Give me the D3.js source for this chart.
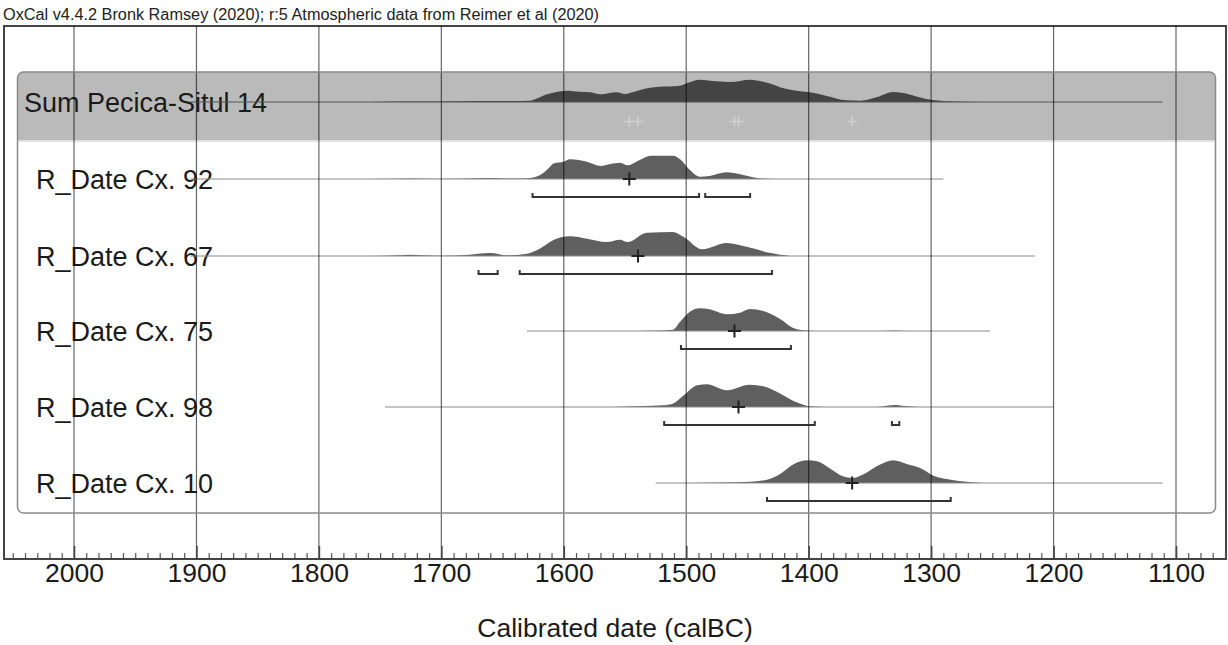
<!DOCTYPE html>
<html>
<head>
<meta charset="utf-8">
<script src="https://cdn.jsdelivr.net/npm/d3@7"></script>
<style>
  body { margin: 0; background: #fff; }
  svg { display: block; font-family: "Liberation Sans", Arial, sans-serif; }
</style>
</head>
<body>
<div id="chart"></div>
<script>
// header text
const TITLE = "OxCal v4.4.2 Bronk Ramsey (2020); r:5 Atmospheric data from Reimer et al (2020)";
const AXIS_TITLE = "Calibrated date (calBC)";

// major tick years (calBC)
const MAJOR_TICKS = [2000, 1900, 1800, 1700, 1600, 1500, 1400, 1300, 1200, 1100];

// row names, top to bottom
const NAMES = ["Sum Pecica-Situl 14", "R_Date Cx. 92", "R_Date Cx. 67", "R_Date Cx. 75", "R_Date Cx. 98", "R_Date Cx. 10"];

// thin line extent of each distribution [from, to] calBC
const SPANS = [[1905, 1111], [1905, 1290], [1905, 1215], [1630, 1252], [1746, 1200], [1525, 1111]];

// probability density: [year, relative height]
const SUM_DENS = [[1760, 0], [1735, 0.5], [1700, 0.6], [1670, 0.9], [1640, 1], [1628, 1.3], [1622, 3.5], [1617, 6.3], [1607, 9.7],
  [1598, 11.3], [1587, 10.3], [1578, 9.7], [1570, 7.7], [1557, 9.7], [1550, 8], [1543, 10], [1532, 13.7], [1524, 15],
  [1505, 16.3], [1499, 19], [1489, 22.3], [1475, 20.7], [1464, 20], [1448, 22.3], [1437, 20.3], [1418, 13], [1407, 10.7],
  [1399, 9.7], [1386, 6.3], [1369, 1.7], [1358, 1.3], [1344, 5], [1331, 10], [1320, 8.3], [1304, 3], [1290, 1], [1271, 0.3], [1244, 0]];
const CX92_DENS = [[1780, 0], [1740, 0.3], [1720, 0.6], [1700, 0.3], [1680, 0.6], [1660, 1], [1640, 0.5], [1630, 0.8], [1625, 1.5],
  [1618, 5], [1613, 10], [1608, 15.7], [1600, 17.3], [1595, 19.7], [1581, 17.3], [1570, 13], [1562, 15], [1554, 16.3],
  [1548, 13.7], [1538, 19], [1529, 23.3], [1511, 23.3], [1505, 19.7], [1497, 9], [1489, 2.3], [1481, 3], [1467, 6.7],
  [1456, 4.7], [1442, 1], [1430, 0]];
const CX67_DENS = [[1760, 0], [1735, 0.8], [1725, 1.3], [1715, 0.8], [1700, 0.3], [1680, 1], [1660, 3], [1646, 0.7], [1630, 2.3],
  [1620, 7], [1608, 16.3], [1595, 19.7], [1581, 17.3], [1565, 14], [1554, 16.3], [1548, 14], [1532, 23.3], [1511, 24],
  [1502, 19], [1487, 6.7], [1467, 13], [1450, 9], [1431, 3], [1415, 0]];
const CX75_DENS = [[1540, 0], [1520, 0.5], [1511, 1.2], [1505, 9.3], [1497, 19.3], [1489, 22.7], [1481, 21.7], [1467, 16.7],
  [1456, 18.3], [1448, 22], [1437, 20], [1423, 11.7], [1413, 3.3], [1404, 0.7], [1395, 0], [1340, 0], [1330, 0.6], [1320, 0]];
const CX98_DENS = [[1560, 0], [1535, 1], [1519, 1.7], [1511, 3.3], [1502, 11.7], [1491, 21.7], [1483, 22.7], [1467, 16.7],
  [1448, 22.3], [1437, 20.7], [1423, 13.3], [1410, 4.7], [1399, 0.7], [1385, 0], [1345, 0], [1335, 1.5], [1329, 2], [1322, 1], [1310, 0]];
const CX10_DENS = [[1497, 0], [1470, 0.5], [1448, 1.3], [1434, 3.3], [1423, 9.3], [1413, 18.3], [1401, 22.7], [1393, 21.7],
  [1382, 14], [1372, 6.7], [1364, 5], [1356, 8.3], [1342, 18.3], [1331, 22.7], [1320, 19], [1309, 15], [1298, 7.3],
  [1284, 3.3], [1271, 1.3], [1257, 0]];
const DENSITIES = [SUM_DENS, CX92_DENS, CX67_DENS, CX75_DENS, CX98_DENS, CX10_DENS];

// 95.4% ranges
const RANGES = [[], [[1625.5, 1489.5], [1484.5, 1447.8]], [[1669.6, 1654], [1636, 1430]], [[1504.3, 1414.5]],
  [[1518, 1395], [1332, 1326]], [[1434, 1284]]];

// means (crosses)
const MEANS = [null, 1546.5, 1539.4, 1460.6, 1457.3, 1364.5];

const W = 1228, H = 645;
const frame = {left: 4, right: 1226, top: 26, bottom: 559};
const box = {left: 17.5, right: 1215.5, top: 72, bottom: 513, band: 140};
const rowY = [102, 179, 256, 331, 407, 483];

const x = d3.scaleLinear().domain([2000, 1100]).range([74, 1176]);
const h = d3.scaleLinear().domain([0, 24]).range([0, 24]);

const svg = d3.select("#chart").append("svg")
    .attr("width", W)
    .attr("height", H);

svg.append("text")
    .attr("x", 3)
    .attr("y", 20)
    .attr("font-size", 16)
    .attr("textLength", 596)
    .attr("lengthAdjust", "spacingAndGlyphs")
    .attr("fill", "#222")
    .text(TITLE);

// outer frame
svg.append("path")
    .attr("d", `M${frame.left},${frame.bottom}V${frame.top}H${frame.right}V${frame.bottom}`)
    .attr("fill", "none")
    .attr("stroke", "#444")
    .attr("stroke-width", 2);

// rounded box + sum band
svg.append("clipPath").attr("id", "boxclip")
  .append("rect")
    .attr("x", box.left).attr("y", box.top)
    .attr("width", box.right - box.left).attr("height", box.bottom - box.top)
    .attr("rx", 6);

svg.append("rect")
    .attr("x", box.left).attr("y", box.top)
    .attr("width", box.right - box.left).attr("height", box.bottom - box.top)
    .attr("rx", 6)
    .attr("fill", "#fff");

svg.append("rect")
    .attr("clip-path", "url(#boxclip)")
    .attr("x", box.left).attr("y", box.top)
    .attr("width", box.right - box.left).attr("height", box.band - box.top)
    .attr("fill", "#bababa");

svg.append("line")
    .attr("x1", box.left).attr("x2", box.right)
    .attr("y1", box.band + 1).attr("y2", box.band + 1)
    .attr("stroke", "#e2e2e2")
    .attr("stroke-width", 2);

// labels
svg.selectAll("text.name")
  .data(NAMES)
  .join("text")
    .attr("class", "name")
    .attr("x", (d, i) => i === 0 ? 24 : 36)
    .attr("y", (d, i) => rowY[i] + 9.5)
    .attr("font-size", 27)
    .attr("fill", "#1a1a1a")
    .text(d => d);

// distributions
const area = (i) => d3.area()
    .x(d => x(d[0]))
    .y0(rowY[i])
    .y1(d => rowY[i] - h(d[1]))
    .curve(d3.curveMonotoneX);

DENSITIES.forEach((dens, i) => {
  svg.append("path")
      .attr("d", area(i)(dens))
      .attr("fill", i === 0 ? "#444" : "#5f5f5f");

  svg.append("line")
      .attr("x1", x(SPANS[i][0])).attr("x2", x(SPANS[i][1]))
      .attr("y1", rowY[i]).attr("y2", rowY[i])
      .attr("stroke", i === 0 ? "#555" : "#8c8c8c")
      .attr("stroke-width", 1.2);
});

// pale crosses in the sum row
svg.selectAll("path.pale")
  .data(MEANS.filter(d => d !== null))
  .join("path")
    .attr("class", "pale")
    .attr("d", d => `M${x(d) - 5},${rowY[0] + 19.5}h10M${x(d)},${rowY[0] + 14.5}v10`)
    .attr("stroke", "#d0d0d0")
    .attr("stroke-width", 1.5);

// grid lines
svg.selectAll("line.grid")
  .data(MAJOR_TICKS)
  .join("line")
    .attr("class", "grid")
    .attr("x1", d => x(d)).attr("x2", d => x(d))
    .attr("y1", frame.top).attr("y2", frame.bottom)
    .attr("stroke", "#000")
    .attr("stroke-opacity", 0.6)
    .attr("stroke-width", 1.2);

// box outline
svg.append("rect")
    .attr("x", box.left).attr("y", box.top)
    .attr("width", box.right - box.left).attr("height", box.bottom - box.top)
    .attr("rx", 6)
    .attr("fill", "none")
    .attr("stroke", "#8a8a8a")
    .attr("stroke-width", 1.5);

// ranges (brackets)
RANGES.forEach((rs, i) => {
  const y = rowY[i] + 18;
  rs.forEach(r => {
    svg.append("path")
        .attr("d", `M${x(r[0])},${y - 4}V${y}H${x(r[1])}V${y - 4}`)
        .attr("fill", "none")
        .attr("stroke", "#333")
        .attr("stroke-width", 2);
  });
});

// crosses
MEANS.forEach((m, i) => {
  if (m === null) return;
  svg.append("path")
      .attr("d", `M${x(m) - 6.5},${rowY[i]}h13M${x(m)},${rowY[i] - 6.5}v13`)
      .attr("stroke", "#222")
      .attr("stroke-width", 2);
});

// x axis
const xa = d3.scaleLinear().domain([2000, 1100]).range([74, 1176]);
const minor = d3.range(1060, 2060, 10).filter(d => d % 100 !== 0);

svg.append("g")
    .attr("transform", `translate(0,${frame.bottom})`)
    .call(d3.axisBottom(xa).tickValues(minor).tickSize(-6).tickFormat(""))
    .call(g => g.select(".domain").remove())
    .call(g => g.selectAll(".tick line").attr("stroke", "#555").attr("stroke-width", 1.2));

const axis = svg.append("g")
    .attr("transform", `translate(0,${frame.bottom})`)
    .call(d3.axisBottom(xa).tickValues(MAJOR_TICKS).tickSize(-13).tickPadding(4.5).tickFormat(d3.format("d")));
axis.select(".domain").remove();
axis.selectAll(".tick line").attr("stroke", "#444").attr("stroke-width", 1.6);
axis.selectAll(".tick text")
    .attr("font-size", 26.5)
    .attr("font-family", "'Liberation Sans', Arial, sans-serif")
    .attr("fill", "#1a1a1a");

svg.append("line")
    .attr("x1", frame.left - 1).attr("x2", frame.right + 1)
    .attr("y1", frame.bottom).attr("y2", frame.bottom)
    .attr("stroke", "#444")
    .attr("stroke-width", 2);

svg.append("text")
    .attr("x", 615)
    .attr("y", 637)
    .attr("text-anchor", "middle")
    .attr("font-size", 26.5)
    .attr("fill", "#1a1a1a")
    .text(AXIS_TITLE);
</script>
</body>
</html>
